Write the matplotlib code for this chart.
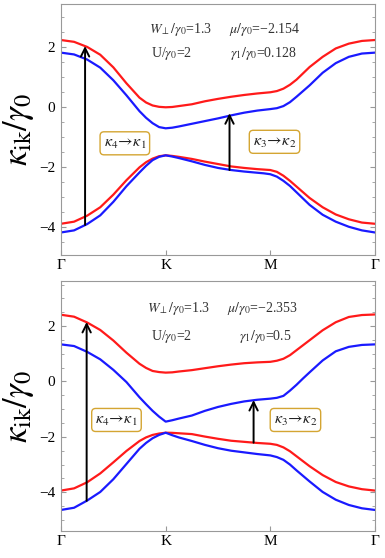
import matplotlib
matplotlib.use("Agg")
import matplotlib.pyplot as plt
from matplotlib.ticker import MultipleLocator, FixedLocator

plt.rcParams['font.family'] = ['Liberation Serif', 'DejaVu Serif']
plt.rcParams['mathtext.fontset'] = 'stix'

# k-path positions (Γ=0, K=1, M=2, Γ=3)
k = [0, 0.125, 0.25, 0.375, 0.5, 0.625, 0.75, 0.8125, 0.875, 0.9375, 1.0, 1.0625, 1.125, 1.25,
     1.375, 1.5, 1.625, 1.75, 1.875, 1.9375, 2.0, 2.0625, 2.125, 2.1875, 2.25, 2.3125, 2.375,
     2.5, 2.625, 2.75, 2.875, 3.0]
tick_pos = [0, 1, 2, 3]
tick_labels = ['Γ', 'K', 'M', 'Γ']

# ---- top panel (gamma1/gamma0 = 0.128) ----
top_band1 = [2.24, 2.18, 2.01, 1.75, 1.33, 0.80, 0.32, 0.16, 0.06, 0.015, 0.00, 0.01, 0.04, 0.10,
             0.20, 0.28, 0.35, 0.41, 0.46, 0.48, 0.50, 0.54, 0.62, 0.75, 0.92, 1.13, 1.34,
             1.68, 1.96, 2.12, 2.21, 2.24]
top_band2 = [1.82, 1.76, 1.59, 1.32, 0.90, 0.40, -0.13, -0.35, -0.53, -0.66, -0.70, -0.68, -0.64, -0.55,
             -0.46, -0.37, -0.27, -0.18, -0.11, -0.085, -0.06, -0.03, 0.04, 0.17, 0.35, 0.54, 0.73,
             1.15, 1.47, 1.68, 1.79, 1.82]
top_band3 = [-3.88, -3.81, -3.61, -3.33, -2.91, -2.43, -2.00, -1.83, -1.71, -1.63, -1.60, -1.62, -1.65, -1.72,
             -1.81, -1.89, -1.97, -2.02, -2.06, -2.075, -2.09, -2.15, -2.28, -2.45, -2.64, -2.83, -3.02,
             -3.33, -3.57, -3.73, -3.84, -3.88]
top_band4 = [-4.17, -4.10, -3.89, -3.60, -3.15, -2.63, -2.17, -1.95, -1.76, -1.65, -1.60, -1.64, -1.69, -1.80,
             -1.92, -2.02, -2.09, -2.14, -2.18, -2.20, -2.23, -2.31, -2.45, -2.62, -2.83, -3.04, -3.25,
             -3.58, -3.81, -3.98, -4.10, -4.17]
top_arrow_k = [0.23, 1.61]
top_arrow_from = [-3.92, -2.09]
top_arrow_to = [2.04, -0.20]
top_params = ['$W_{\\perp}/\\gamma_0$=1.3', '$\\mu/\\gamma_0$=\u22122.154',
              'U/$\\gamma_0$=2', '$\\gamma_1/\\gamma_0$=0.128']

# ---- bottom panel (gamma1/gamma0 = 0.5) ----
bot_band1 = [2.41, 2.34, 2.13, 1.86, 1.48, 1.04, 0.64, 0.49, 0.38, 0.34, 0.32, 0.33, 0.36, 0.41,
             0.48, 0.55, 0.61, 0.66, 0.69, 0.70, 0.71, 0.75, 0.82, 0.95, 1.13, 1.31, 1.49,
             1.85, 2.14, 2.33, 2.40, 2.42]
bot_band2 = [1.34, 1.28, 1.07, 0.80, 0.42, -0.02, -0.57, -0.82, -1.06, -1.27, -1.45, -1.40, -1.34, -1.23,
             -1.06, -0.92, -0.81, -0.72, -0.66, -0.64, -0.62, -0.59, -0.52, -0.33, -0.12, 0.11, 0.33,
             0.76, 1.09, 1.25, 1.32, 1.34]
bot_band3 = [-3.94, -3.86, -3.64, -3.32, -2.92, -2.51, -2.15, -2.02, -1.93, -1.88, -1.85, -1.855, -1.87, -1.90,
             -1.99, -2.07, -2.14, -2.18, -2.22, -2.235, -2.25, -2.29, -2.38, -2.52, -2.70, -2.88, -3.06,
             -3.38, -3.63, -3.79, -3.89, -3.94]
bot_band4 = [-4.64, -4.56, -4.30, -3.99, -3.53, -2.98, -2.43, -2.22, -2.05, -1.93, -1.85, -1.94, -2.02, -2.15,
             -2.29, -2.41, -2.50, -2.56, -2.62, -2.645, -2.67, -2.73, -2.83, -3.00, -3.21, -3.41, -3.61,
             -3.99, -4.27, -4.46, -4.58, -4.64]
bot_arrow_k = [0.245, 1.84]
bot_arrow_from = [-4.31, -2.21]
bot_arrow_to = [2.15, -0.67]
bot_params = ['$W_{\\perp}/\\gamma_0$=1.3', '$\\mu/\\gamma_0$=\u22122.353',
              'U/$\\gamma_0$=2', '$\\gamma_1/\\gamma_0$=0.5']

transition_labels = ['$\\kappa_4\\!\\rightarrow\\!\\kappa_1$', '$\\kappa_3\\!\\rightarrow\\!\\kappa_2$']

RED = '#ff1a1a'
BLUE = '#1a1aff'
FRAME = '#999999'

fig = plt.figure(figsize=(3.85, 5.58), dpi=100)
ax1 = fig.add_axes([61/385, 1-255/558, 314/385, 251/558])
ax2 = fig.add_axes([61/385, 1-531/558, 314/385, 250.3/558])


def draw(ax, bands, arrows, params, ylim, param_pos, label_pos):
    b1, b2, b3, b4 = bands
    for b, c in zip((b1, b2, b3, b4), (RED, BLUE, RED, BLUE)):
        ax.plot(k, b, color=c, lw=1.6, solid_joinstyle='round', solid_capstyle='round')
    ak, af, at = arrows
    for x, y0, y1 in zip(ak, af, at):
        ax.annotate('', xy=(x, y1), xytext=(x, y0),
                    arrowprops=dict(arrowstyle='->,head_length=0.6,head_width=0.3',
                                    color='black', lw=1.4, shrinkA=0, shrinkB=0))
    for (x, y), s in zip(param_pos, params):
        ax.text(x, y, s, ha='center', va='center', fontsize=10, color='#333333')
    for (x, y), s in zip(label_pos, transition_labels):
        ax.text(x, y, s, ha='center', va='center', fontsize=11.5, color='#222222',
                bbox=dict(boxstyle='round,pad=0.22,rounding_size=0.25', fc='white',
                          ec='#d4a532', lw=1.0))
    ax.set_xlim(0, 3)
    ax.set_ylim(*ylim)
    ax.xaxis.set_major_locator(FixedLocator(tick_pos))
    ax.set_xticklabels(tick_labels, fontsize=11)
    ax.yaxis.set_major_locator(FixedLocator([-4, -2, 0, 2]))
    ax.yaxis.set_minor_locator(MultipleLocator(0.5))
    ax.set_yticklabels(['\u22124', '\u22122', '0', '2'], fontsize=11)
    ax.tick_params(axis='both', which='both', direction='in', color=FRAME, right=True)
    ax.tick_params(axis='y', which='major', length=3.5, pad=4)
    ax.tick_params(axis='y', which='minor', length=2.5)
    ax.tick_params(axis='x', which='major', length=3.5, pad=3)
    for sp in ax.spines.values():
        sp.set_color(FRAME)
        sp.set_linewidth(0.8)
    ax.set_ylabel('$\\kappa_{\\rm ik}/\\gamma_0$', fontsize=25, labelpad=2)


draw(ax1, (top_band1, top_band2, top_band3, top_band4),
     (top_arrow_k, top_arrow_from, top_arrow_to), top_params, (-4.92, 3.44),
     [(1.14, 2.58), (1.95, 2.58), (1.06, 1.80), (1.93, 1.80)],
     [(0.61, -1.20), (2.04, -1.15)])
draw(ax2, (bot_band1, bot_band2, bot_band3, bot_band4),
     (bot_arrow_k, bot_arrow_from, bot_arrow_to), bot_params, (-5.40, 3.64),
     [(1.12, 2.64), (1.93, 2.64), (1.06, 1.62), (1.95, 1.62)],
     [(0.53, -1.39), (2.24, -1.39)])

fig.savefig('out.png', dpi=100)
